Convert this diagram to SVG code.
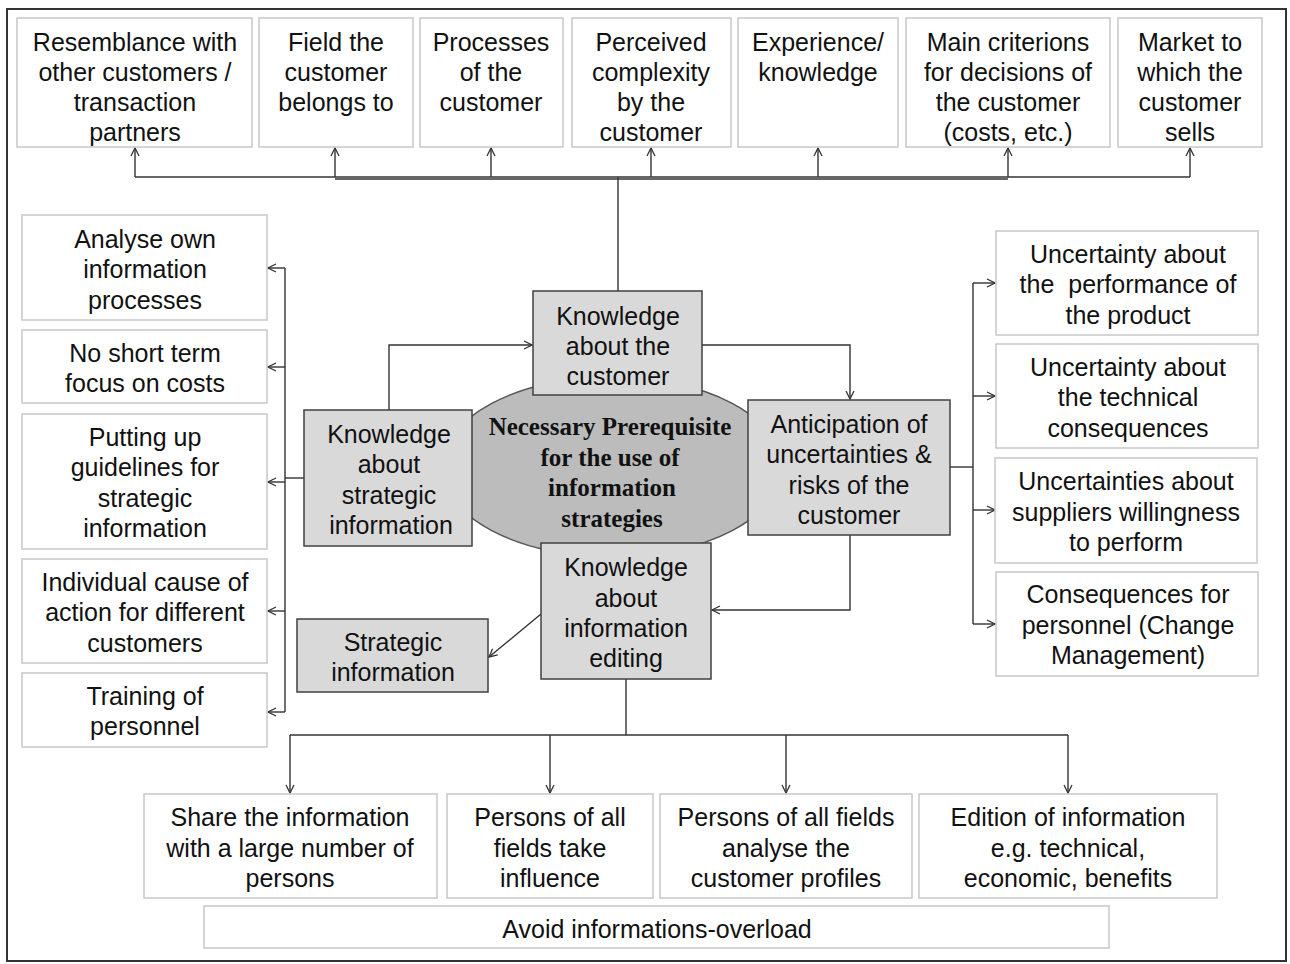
<svg xmlns="http://www.w3.org/2000/svg" width="1290" height="964" viewBox="0 0 1290 964">
<style>
.ob{fill:#ffffff;stroke:#c8c8c8;stroke-width:1.5}
.cb{fill:#d9d9d9;stroke:#404040;stroke-width:1.5}
.t{font-family:"Liberation Sans",Arial,sans-serif;font-size:25px;fill:#111;text-anchor:middle}
.ct{font-family:"Liberation Serif","Times New Roman",serif;font-size:25px;font-weight:bold;fill:#111;text-anchor:middle}
.c{fill:none;stroke:#333;stroke-width:1.4}
</style>
<defs>
<marker id="ah" viewBox="0 0 10 10" refX="9" refY="5" markerWidth="10" markerHeight="10" markerUnits="userSpaceOnUse" orient="auto">
<path d="M1,1 L9,5 L1,9" fill="none" stroke="#333" stroke-width="1.3"/>
</marker>
</defs>
<rect x="0" y="0" width="1290" height="964" fill="#ffffff"/>
<rect id="frame" x="7" y="9" width="1279" height="952" fill="none" stroke="#333" stroke-width="2"/>

<g id="connectors">
<path class="c" d="M618,291 V177"/>
<path class="c" d="M135,177 H1190"/>
<path class="c" d="M335,179 H1008" stroke-width="1"/>
<path class="c" marker-end="url(#ah)" d="M135,177 V148"/>
<path class="c" marker-end="url(#ah)" d="M335,177 V148"/>
<path class="c" marker-end="url(#ah)" d="M491,177 V148"/>
<path class="c" marker-end="url(#ah)" d="M651,177 V148"/>
<path class="c" marker-end="url(#ah)" d="M818,177 V148"/>
<path class="c" marker-end="url(#ah)" d="M1008,177 V148"/>
<path class="c" marker-end="url(#ah)" d="M1190,177 V148"/>

<path class="c" marker-end="url(#ah)" d="M389,410 V345 H532"/>
<path class="c" marker-end="url(#ah)" d="M702,345 H850 V399"/>
<path class="c" marker-end="url(#ah)" d="M850,535 V610 H712"/>
<path class="c" marker-end="url(#ah)" d="M541,614 L489,657"/>

<path class="c" d="M304,478 H285"/>
<path class="c" d="M285,268 V712"/>
<path class="c" marker-end="url(#ah)" d="M285,268 H268"/>
<path class="c" marker-end="url(#ah)" d="M285,367 H268"/>
<path class="c" marker-end="url(#ah)" d="M285,482 H268"/>
<path class="c" marker-end="url(#ah)" d="M285,611 H268"/>
<path class="c" marker-end="url(#ah)" d="M285,712 H268"/>

<path class="c" d="M950,467 H973"/>
<path class="c" d="M973,283 V624"/>
<path class="c" marker-end="url(#ah)" d="M973,283 H995"/>
<path class="c" marker-end="url(#ah)" d="M973,396 H995"/>
<path class="c" marker-end="url(#ah)" d="M973,510 H995"/>
<path class="c" marker-end="url(#ah)" d="M973,624 H995"/>

<path class="c" d="M626,679 V735"/>
<path class="c" d="M290,735 H1068"/>
<path class="c" marker-end="url(#ah)" d="M290,735 V793"/>
<path class="c" marker-end="url(#ah)" d="M550,735 V793"/>
<path class="c" marker-end="url(#ah)" d="M786,735 V793"/>
<path class="c" marker-end="url(#ah)" d="M1068,735 V793"/>
</g>

<g id="top1"><rect class="ob" x="17" y="18" width="235" height="129"/>
<text class="t" x="135" y="51">Resemblance with</text><text class="t" x="135" y="81">other customers /</text><text class="t" x="135" y="111">transaction</text><text class="t" x="135" y="141">partners</text></g>
<g id="top2"><rect class="ob" x="259" y="18" width="154" height="129"/>
<text class="t" x="336" y="51">Field the</text><text class="t" x="336" y="81">customer</text><text class="t" x="336" y="111">belongs to</text></g>
<g id="top3"><rect class="ob" x="420" y="18" width="143" height="129"/>
<text class="t" x="491" y="51">Processes</text><text class="t" x="491" y="81">of the</text><text class="t" x="491" y="111">customer</text></g>
<g id="top4"><rect class="ob" x="572" y="18" width="159" height="129"/>
<text class="t" x="651" y="51">Perceived</text><text class="t" x="651" y="81">complexity</text><text class="t" x="651" y="111">by the</text><text class="t" x="651" y="141">customer</text></g>
<g id="top5"><rect class="ob" x="738" y="18" width="160" height="129"/>
<text class="t" x="818" y="51">Experience/</text><text class="t" x="818" y="81">knowledge</text></g>
<g id="top6"><rect class="ob" x="906" y="18" width="204" height="129"/>
<text class="t" x="1008" y="51">Main criterions</text><text class="t" x="1008" y="81">for decisions of</text><text class="t" x="1008" y="111">the customer</text><text class="t" x="1008" y="141">(costs, etc.)</text></g>
<g id="top7"><rect class="ob" x="1118" y="18" width="144" height="129"/>
<text class="t" x="1190" y="51">Market to</text><text class="t" x="1190" y="81">which the</text><text class="t" x="1190" y="111">customer</text><text class="t" x="1190" y="141">sells</text></g>

<g id="center"><ellipse cx="612" cy="467" rx="170" ry="90" fill="#bcbcbc" stroke="#555" stroke-width="1.5"/>
<text class="ct" x="610" y="435">Necessary Prerequisite</text><text class="ct" x="610" y="466">for the use of</text><text class="ct" x="612" y="496">information</text><text class="ct" x="612" y="527">strategies</text></g>

<g id="kcustomer"><rect class="cb" x="533" y="291" width="169" height="104"/>
<text class="t" x="618" y="325">Knowledge</text><text class="t" x="618" y="355">about the</text><text class="t" x="618" y="385">customer</text></g>
<g id="kstrategic"><rect class="cb" x="304" y="410" width="168" height="136"/>
<text class="t" x="389" y="443">Knowledge</text><text class="t" x="389" y="473">about</text><text class="t" x="389" y="504">strategic</text><text class="t" x="391" y="534">information</text></g>
<g id="anticipation"><rect class="cb" x="748" y="400" width="202" height="135"/>
<text class="t" x="849" y="433">Anticipation of</text><text class="t" x="849" y="463">uncertainties &amp;</text><text class="t" x="849" y="494">risks of the</text><text class="t" x="849" y="524">customer</text></g>
<g id="kediting"><rect class="cb" x="541" y="543" width="170" height="136"/>
<text class="t" x="626" y="576">Knowledge</text><text class="t" x="626" y="607">about</text><text class="t" x="626" y="637">information</text><text class="t" x="626" y="667">editing</text></g>
<g id="strategicinfo"><rect class="cb" x="297" y="619" width="191" height="73"/>
<text class="t" x="393" y="651">Strategic</text><text class="t" x="393" y="681">information</text></g>

<g id="left1"><rect class="ob" x="22" y="215" width="245" height="105"/>
<text class="t" x="145" y="248">Analyse own</text><text class="t" x="145" y="278">information</text><text class="t" x="145" y="309">processes</text></g>
<g id="left2"><rect class="ob" x="22" y="330" width="245" height="73"/>
<text class="t" x="145" y="362">No short term</text><text class="t" x="145" y="392">focus on costs</text></g>
<g id="left3"><rect class="ob" x="22" y="414" width="245" height="135"/>
<text class="t" x="145" y="446">Putting up</text><text class="t" x="145" y="476">guidelines for</text><text class="t" x="145" y="507">strategic</text><text class="t" x="145" y="537">information</text></g>
<g id="left4"><rect class="ob" x="22" y="559" width="245" height="104"/>
<text class="t" x="145" y="591">Individual cause of</text><text class="t" x="145" y="621">action for different</text><text class="t" x="145" y="652">customers</text></g>
<g id="left5"><rect class="ob" x="22" y="673" width="245" height="74"/>
<text class="t" x="145" y="705">Training of</text><text class="t" x="145" y="735">personnel</text></g>

<g id="right1"><rect class="ob" x="996" y="231" width="262" height="104"/>
<text class="t" x="1128" y="263">Uncertainty about</text><text class="t" x="1128" y="293" xml:space="preserve">the  performance of</text><text class="t" x="1128" y="324">the product</text></g>
<g id="right2"><rect class="ob" x="996" y="344" width="262" height="104"/>
<text class="t" x="1128" y="376">Uncertainty about</text><text class="t" x="1128" y="406">the technical</text><text class="t" x="1128" y="437">consequences</text></g>
<g id="right3"><rect class="ob" x="995" y="458" width="262" height="105"/>
<text class="t" x="1126" y="490">Uncertainties about</text><text class="t" x="1126" y="521">suppliers willingness</text><text class="t" x="1126" y="551">to perform</text></g>
<g id="right4"><rect class="ob" x="996" y="572" width="262" height="104"/>
<text class="t" x="1128" y="603">Consequences for</text><text class="t" x="1128" y="634">personnel (Change</text><text class="t" x="1128" y="664">Management)</text></g>

<g id="bottom1"><rect class="ob" x="144" y="794" width="293" height="104"/>
<text class="t" x="290" y="826">Share the information</text><text class="t" x="290" y="857">with a large number of</text><text class="t" x="290" y="887">persons</text></g>
<g id="bottom2"><rect class="ob" x="447" y="794" width="206" height="104"/>
<text class="t" x="550" y="826">Persons of all</text><text class="t" x="550" y="857">fields take</text><text class="t" x="550" y="887">influence</text></g>
<g id="bottom3"><rect class="ob" x="660" y="794" width="252" height="104"/>
<text class="t" x="786" y="826">Persons of all fields</text><text class="t" x="786" y="857">analyse the</text><text class="t" x="786" y="887">customer profiles</text></g>
<g id="bottom4"><rect class="ob" x="919" y="794" width="298" height="104"/>
<text class="t" x="1068" y="826">Edition of information</text><text class="t" x="1068" y="857">e.g. technical,</text><text class="t" x="1068" y="887">economic, benefits</text></g>
<g id="avoid"><rect class="ob" x="204" y="906" width="905" height="42"/>
<text class="t" x="657" y="938">Avoid informations-overload</text></g>
</svg>
